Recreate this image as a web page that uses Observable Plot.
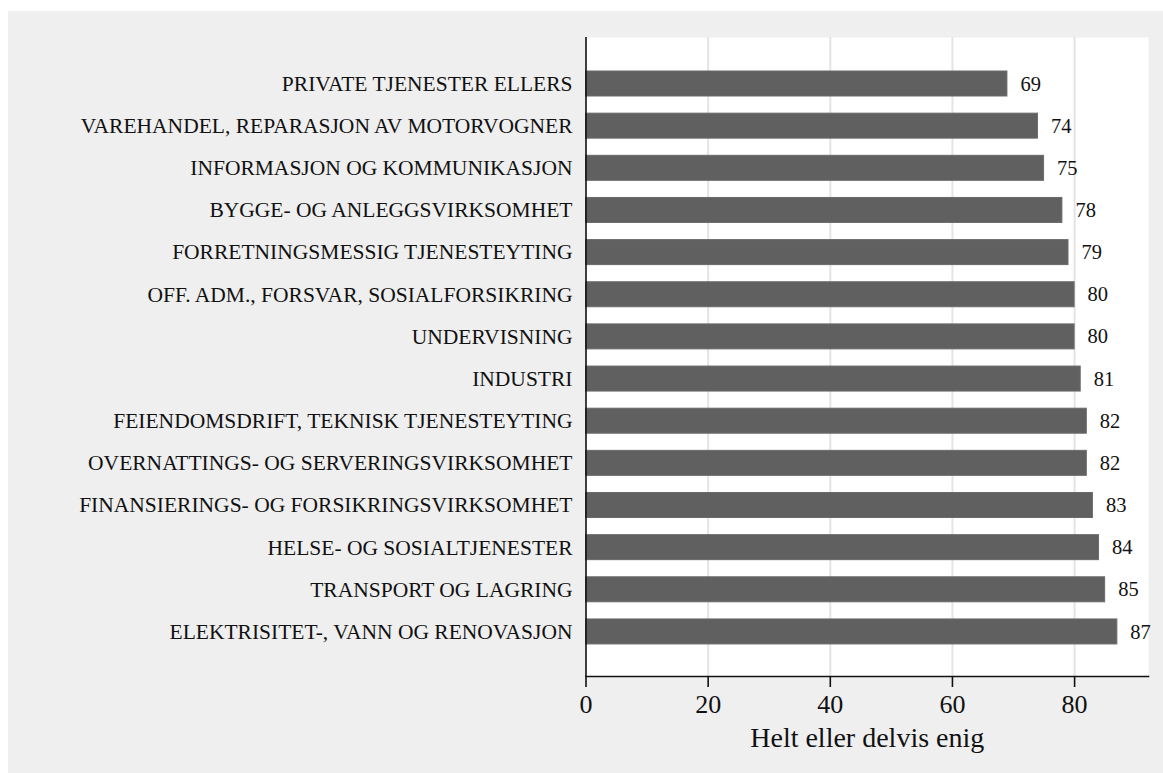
<!DOCTYPE html>
<html>
<head>
<meta charset="utf-8">
<script src="https://cdn.jsdelivr.net/npm/d3@7"></script>
<script src="https://cdn.jsdelivr.net/npm/@observablehq/plot@0.6"></script>
<style>
  html, body { margin: 0; padding: 0; background: #ffffff; }
  #wrap { position: absolute; left: 8px; top: 11px; width: 1155px; height: 762px; background: #efefef; }
  #wrap svg { display: block; }
</style>
</head>
<body>
<div id="wrap"></div>
<script>
const categories = [
  "PRIVATE TJENESTER ELLERS",
  "VAREHANDEL, REPARASJON AV MOTORVOGNER",
  "INFORMASJON OG KOMMUNIKASJON",
  "BYGGE- OG ANLEGGSVIRKSOMHET",
  "FORRETNINGSMESSIG TJENESTEYTING",
  "OFF. ADM., FORSVAR, SOSIALFORSIKRING",
  "UNDERVISNING",
  "INDUSTRI",
  "FEIENDOMSDRIFT, TEKNISK TJENESTEYTING",
  "OVERNATTINGS- OG SERVERINGSVIRKSOMHET",
  "FINANSIERINGS- OG FORSIKRINGSVIRKSOMHET",
  "HELSE- OG SOSIALTJENESTER",
  "TRANSPORT OG LAGRING",
  "ELEKTRISITET-, VANN OG RENOVASJON"
];
const values = [69, 74, 75, 78, 79, 80, 80, 81, 82, 82, 83, 84, 85, 87];
const xTicks = [0, 20, 40, 60, 80];
const xLabel = "Helt eller delvis enig";

const data = categories.map((c, i) => ({category: c, value: values[i]}));
const font = "'Liberation Serif', 'Times New Roman', serif";

const chart = Plot.plot({
  width: 1155,
  height: 762,
  marginLeft: 577.5,
  marginRight: 15,
  marginTop: 26,
  marginBottom: 97,
  style: {fontFamily: font, background: "transparent", color: "#111"},
  x: {domain: [0, 92.1], ticks: xTicks},
  y: {domain: categories, padding: 0.407, round: false, insetTop: 16.85, insetBottom: 14.9},
  marks: [
    Plot.frame({fill: "#ffffff", stroke: null}),
    Plot.gridX(xTicks.filter(d => d > 0), {stroke: "#e4e4e4", strokeOpacity: 1, strokeWidth: 2}),
    Plot.barX(data, {x: "value", y: "category", fill: "#606060", stroke: "#6a6a6a", strokeWidth: 1}),
    Plot.text(data, {x: "value", y: "category", text: d => String(d.value), dx: 13, textAnchor: "start", fontSize: 20.5, fill: "#111"}),
    Plot.ruleX([0], {stroke: "#111", strokeWidth: 1.6}),
    Plot.frame({anchor: "bottom", stroke: "#111", strokeWidth: 1.6}),
    Plot.axisX({ticks: xTicks, tickSize: 11, tickPadding: 7, fontSize: 26, label: null, stroke: "#111", strokeWidth: 1.6}),
    Plot.axisY({tickSize: 0, tickPadding: 13.5, fontSize: 21.5, label: null}),
    Plot.text([xLabel], {frameAnchor: "bottom", dy: 62, fontSize: 28, lineAnchor: "middle", fill: "#111"})
  ]
});
document.getElementById("wrap").appendChild(chart);
</script>
</body>
</html>
